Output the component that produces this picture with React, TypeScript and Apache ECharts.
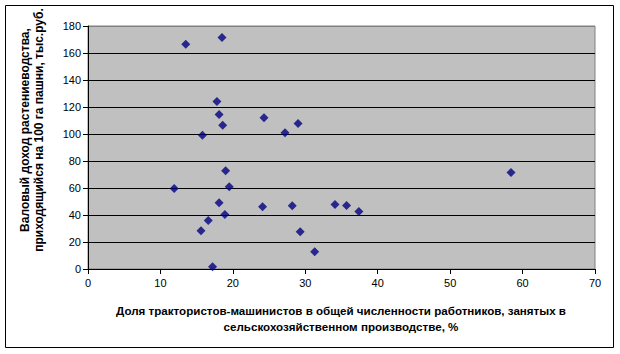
import React, { useEffect, useRef } from "react";
import * as echarts from "echarts";

const xValues = [13.5, 18.5, 17.8, 18.1, 18.6, 15.8, 24.3, 27.2, 29.0, 19.0, 11.9, 19.5, 18.1, 24.1, 28.2, 34.1, 35.7, 37.4, 18.9, 16.6, 15.6, 29.3, 31.3, 17.2, 58.4];
const yValues = [166.5, 171.5, 124, 114.5, 106.5, 99, 112, 101, 107.7, 72.7, 59.7, 61, 49, 46.2, 46.8, 47.7, 47, 42.6, 40.3, 36, 28.4, 27.6, 12.8, 1.7, 71.5];
const yTicks = [0, 20, 40, 60, 80, 100, 120, 140, 160, 180];
const xTicks = [0, 10, 20, 30, 40, 50, 60, 70];

const xTitle = "Доля трактористов-машинистов в общей численности работников, занятых в\nсельскохозяйственном производстве, %";
const yTitle = "Валовый доход растениеводства,\nприходящийся на 100 га пашни, тыс.руб.";

export default function App() {
  const ref = useRef<HTMLDivElement>(null);
  useEffect(() => {
    const chart = echarts.init(ref.current!, null, { renderer: "svg" });
    const font = "Liberation Sans, Arial, sans-serif";
    chart.setOption({
      animation: false,
      backgroundColor: "#ffffff",
      textStyle: { fontFamily: font },
      grid: {
        left: 88,
        top: 26,
        right: 25,
        bottom: 85,
        show: true,
        backgroundColor: "#C0C0C0",
        borderColor: "#808080",
        borderWidth: 1,
      },
      xAxis: {
        type: "value",
        min: xTicks[0],
        max: xTicks[xTicks.length - 1],
        interval: 10,
        axisLine: { show: true, onZero: false, lineStyle: { color: "#000", width: 1 } },
        axisTick: { show: true, length: 5, lineStyle: { color: "#000" } },
        axisLabel: { color: "#000", fontSize: 11, fontFamily: font, margin: 8 },
        splitLine: { show: false },
      },
      yAxis: {
        type: "value",
        min: yTicks[0],
        max: yTicks[yTicks.length - 1],
        interval: 20,
        axisLine: { show: true, onZero: false, lineStyle: { color: "#000", width: 1 } },
        axisTick: { show: true, length: 5, lineStyle: { color: "#000" } },
        axisLabel: { color: "#000", fontSize: 11, fontFamily: font, margin: 7 },
        splitLine: {
          show: true,
          lineStyle: {
            color: ["#000", "#000", "#000", "#000", "#000", "#000", "#000", "#000", "#000", "#808080"],
            width: 1,
          },
        },
      },
      series: [
        {
          type: "scatter",
          symbol: "diamond",
          symbolSize: 9,
          itemStyle: { color: "#000080" },
          data: xValues.map((x, i) => [x, yValues[i]]),
        },
      ],
      graphic: [
        {
          type: "rect",
          shape: { x: 5.5, y: 5.5, width: 608, height: 342 },
          style: { fill: "none", stroke: "#000", lineWidth: 1 },
          silent: true,
        },
        {
          type: "text",
          x: 341,
          y: 318,
          style: {
            text: xTitle,
            font: `bold 11.6px ${font}`,
            fill: "#000",
            textAlign: "center",
            textVerticalAlign: "middle",
            lineHeight: 16,
          },
        },
        {
          type: "text",
          x: 32,
          y: 130,
          rotation: Math.PI / 2,
          style: {
            text: yTitle,
            font: `bold 12px ${font}`,
            fill: "#000",
            textAlign: "center",
            textVerticalAlign: "middle",
            lineHeight: 14,
          },
        },
      ],
    });
    return () => chart.dispose();
  }, []);
  return <div ref={ref} style={{ width: 620, height: 354, position: "absolute", left: 0, top: 0 }} />;
}
